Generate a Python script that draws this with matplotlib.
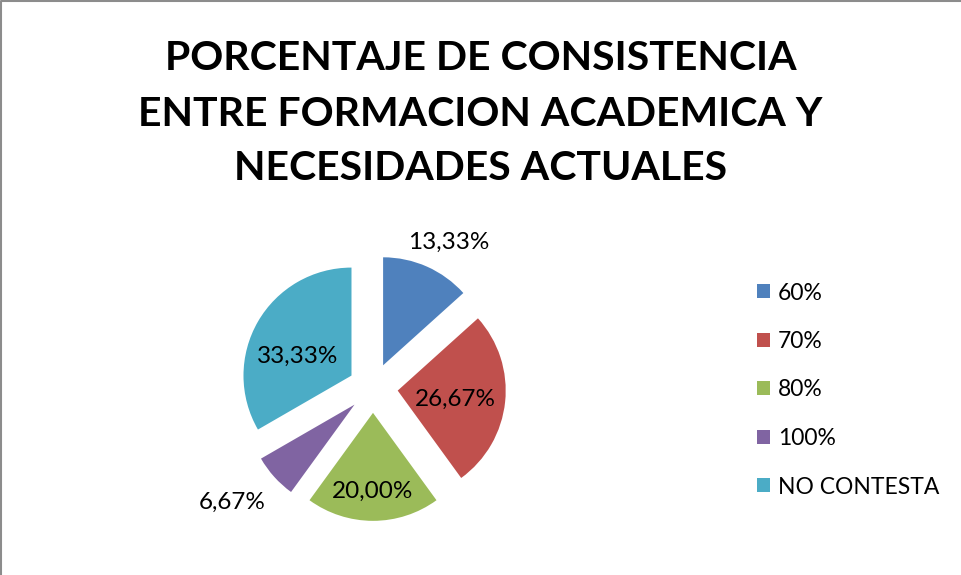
import numpy as np
import matplotlib
matplotlib.use("Agg")
import matplotlib.pyplot as plt
from matplotlib.lines import Line2D

categories = ["60%", "70%", "80%", "100%", "NO CONTESTA"]
values = [13.33, 26.67, 20.00, 6.67, 33.33]
colors = ["#4F81BD", "#C0504D", "#9BBB59", "#8064A2", "#4BACC6"]
title = "PORCENTAJE DE CONSISTENCIA\nENTRE FORMACION ACADEMICA Y\nNECESIDADES ACTUALES"

FONT = ["Lato", "DejaVu Sans"]
plt.rcParams["font.family"] = FONT

W, H = 961, 575
fig = plt.figure(figsize=(W / 100, H / 100), dpi=100)
ax = fig.add_axes([0, 0, 1, 1])

R = 108
center = (373, H - 388)
explode = [0.23 * R] * len(values)
wedges, _ = ax.pie(values, colors=colors, radius=R, center=center,
                   explode=explode, startangle=90, counterclock=False,
                   wedgeprops=dict(linewidth=0), frame=True)
ax.set_xlim(0, W)
ax.set_ylim(0, H)
ax.set_aspect("equal")
ax.axis("off")

# data labels placed along each slice's mid-angle
label_dist = [1.52, 0.77, 0.96, 1.68, 0.76]
label_dang = [-3.5, -2.0, 0.0, -3.0, 7.0]
for w, v, d, da in zip(wedges, values, label_dist, label_dang):
    th = np.deg2rad(0.5 * (w.theta1 + w.theta2) + da)
    x = center[0] + d * R * np.cos(th)
    y = center[1] + d * R * np.sin(th)
    ax.text(x, y, f"{v:.2f}".replace(".", ",") + "%", ha="center", va="center",
            fontsize=17.5, color="black")

fig.text(0.5, 1 - 114 / H, title, ha="center", va="center", fontsize=29.5,
         fontweight="bold", linespacing=1.6)

leg = fig.legend(wedges, categories, loc="center left",
                 bbox_to_anchor=(757 / W, 1 - 390 / H), frameon=False,
                 fontsize=16.5, handlelength=0.55, handleheight=0.55,
                 handletextpad=0.35, labelspacing=1.2, borderpad=0,
                 borderaxespad=0)

# frame only on the left and top edges
fig.lines.append(Line2D([0.0008, 0.0008, 1], [0, 0.9985, 0.9985],
                        transform=fig.transFigure, color="#8c8c8c",
                        linewidth=1.5))

fig.savefig("out.png", dpi=100)
